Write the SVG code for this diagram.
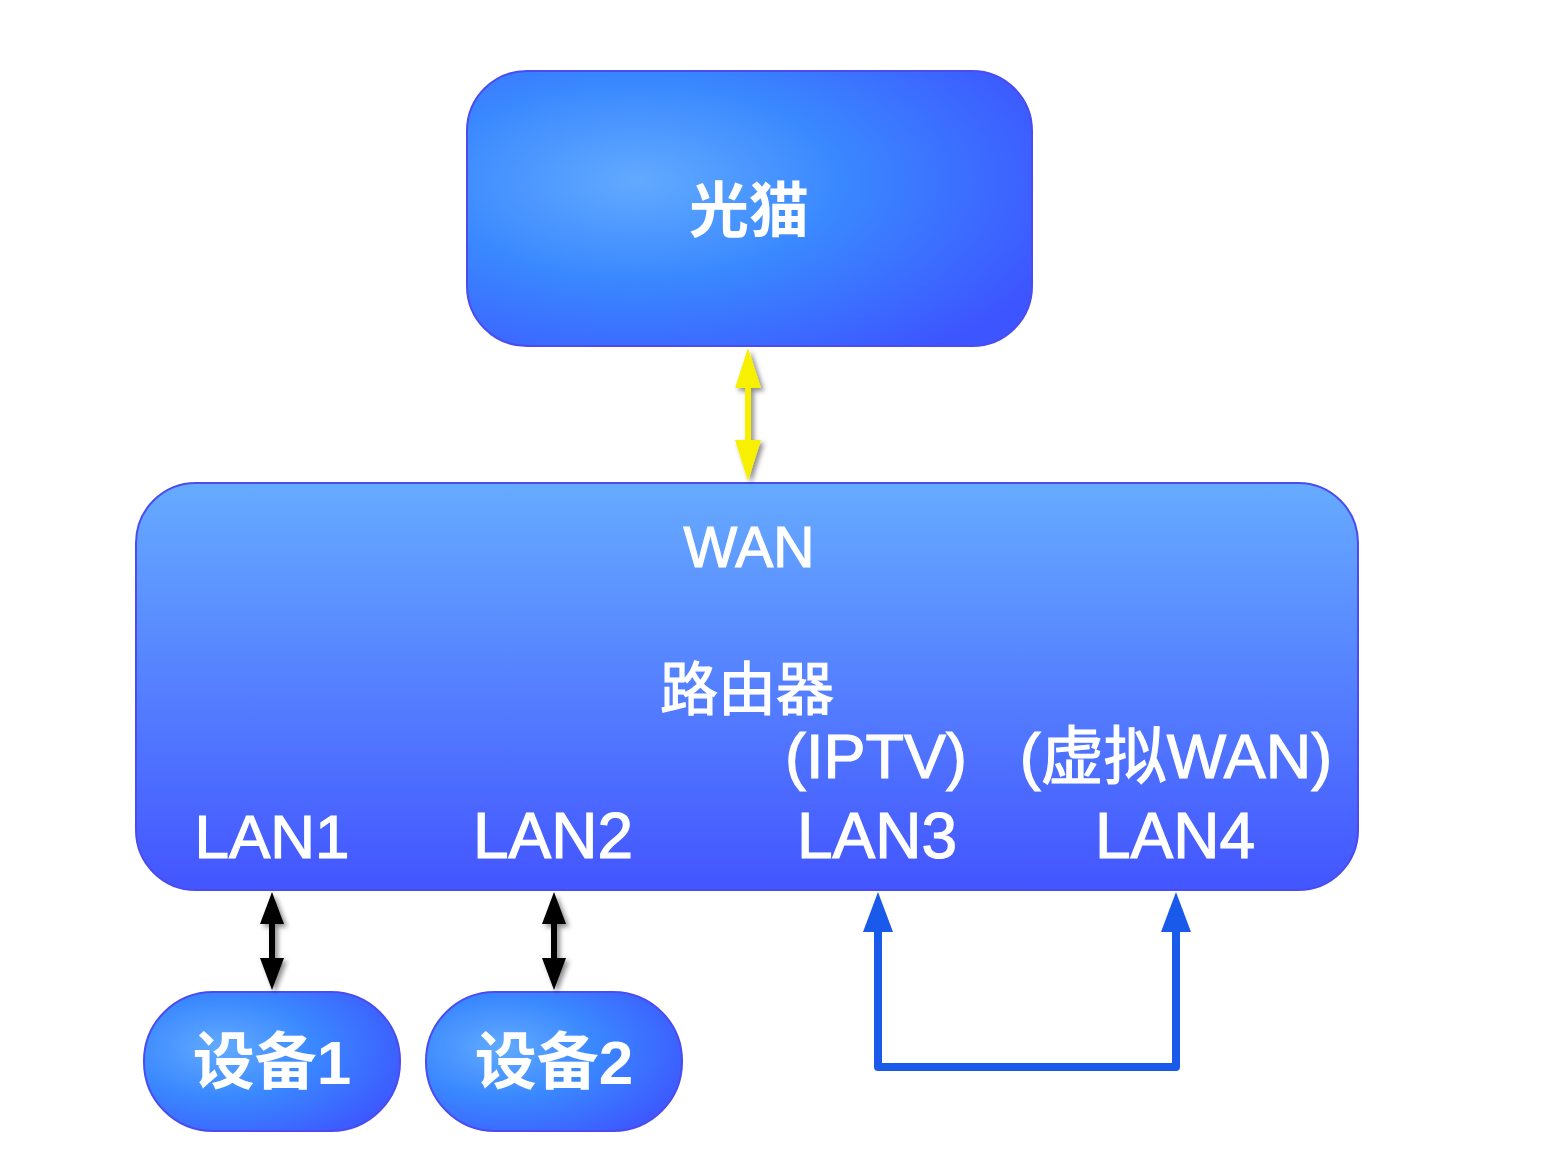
<svg xmlns="http://www.w3.org/2000/svg" width="1564" height="1160" viewBox="0 0 1564 1160">
<defs>
<radialGradient id="rg" cx="0.3" cy="0.4" r="0.8">
<stop offset="0" stop-color="#62aaff"/>
<stop offset="0.45" stop-color="#3a88ff"/>
<stop offset="1" stop-color="#3d55ff"/>
</radialGradient>
<linearGradient id="lg" x1="0" y1="0" x2="0" y2="1">
<stop offset="0" stop-color="#66abff"/>
<stop offset="1" stop-color="#4355ff"/>
</linearGradient>
<filter id="sh" x="-50%" y="-20%" width="200%" height="140%">
<feDropShadow dx="3" dy="3" stdDeviation="2.5" flood-color="#000" flood-opacity="0.45"/>
</filter>
</defs>
<style>
.box{stroke:#4a4cf0;stroke-width:2}
.t{fill:#fff;font-family:"Liberation Sans","Noto Sans CJK SC",sans-serif;text-anchor:middle}
.r{stroke:#fff;stroke-width:1.2}
.b{font-weight:bold}
</style>
<g id="modem">
<rect class="box" x="467" y="71" width="565" height="275" rx="60" fill="url(#rg)"/>
<text class="t b" x="749" y="232" font-size="60">光猫</text>
</g>
<g id="router">
<rect class="box" x="136" y="483" width="1222" height="407" rx="60" fill="url(#lg)"/>
<text class="t r" x="749" y="567" font-size="57">WAN</text>
<text class="t r" x="747" y="710" font-size="58">路由器</text>
<text class="t r" x="876" y="778" font-size="63">(IPTV)</text>
<text class="t r" x="1176" y="778" font-size="63">(虚拟WAN)</text>
<text class="t r" x="272" y="858" font-size="62">LAN1</text>
<text class="t r" x="553" y="858" font-size="64">LAN2</text>
<text class="t r" x="877" y="858" font-size="64">LAN3</text>
<text class="t r" x="1175" y="858" font-size="64">LAN4</text>
</g>
<g id="device1">
<rect class="box" x="144" y="992" width="256" height="139" rx="69" fill="url(#rg)"/>
<text class="t b" x="272" y="1084" font-size="62">设备1</text>
</g>
<g id="device2">
<rect class="box" x="426" y="992" width="256" height="139" rx="69" fill="url(#rg)"/>
<text class="t b" x="554" y="1084" font-size="62">设备2</text>
</g>
<g id="connectors">
<g filter="url(#sh)">
<path d="M748 348 L761 388 L751 388 L751 440 L761 440 L748 481 L735 440 L745 440 L745 388 L735 388 Z" fill="#f7f000"/>
<path d="M272 892 L284 924 L275 924 L275 958 L284 958 L272 990 L260 958 L269 958 L269 924 L260 924 Z" fill="#000"/>
<path d="M554 892 L566 924 L557 924 L557 958 L566 958 L554 990 L542 958 L551 958 L551 924 L542 924 Z" fill="#000"/>
</g>
<path d="M878 928 L878 1067 L1176 1067 L1176 928" fill="none" stroke="#1a5aea" stroke-width="8" stroke-linejoin="round"/>
<path d="M878 892 L893 932 L863 932 Z" fill="#1a5aea"/>
<path d="M1176 892 L1191 932 L1161 932 Z" fill="#1a5aea"/>
</g>
</svg>
